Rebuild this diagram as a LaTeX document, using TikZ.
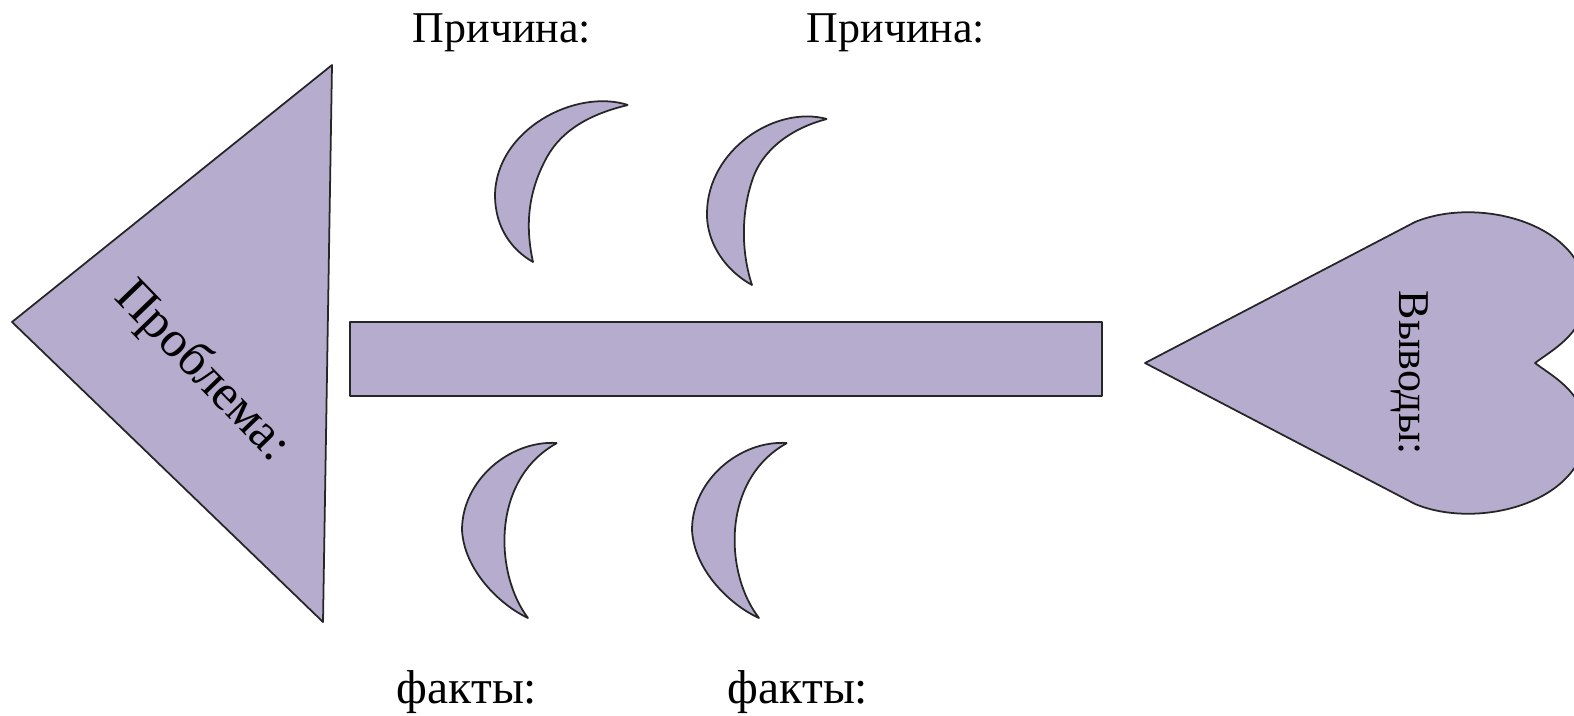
\documentclass[tikz,border=0pt]{standalone}
\usepackage{fontspec}
\setmainfont{Liberation Serif}
\definecolor{lilac}{RGB}{182,172,205}
\tikzset{
  part/.style={fill=lilac, draw=black!85, line width=0.5pt, line join=round},
  cause/.style={font=\fontsize{12.5}{15}\selectfont, anchor=base},
  fact/.style={font=\fontsize{13.5}{16}\selectfont, anchor=base},
}
\begin{document}
\begin{tikzpicture}[x=0.01cm, y=-0.01cm]
    \useasboundingbox (0,0) rectangle (1574,715);
    \clip (0,0) rectangle (1574,715);
    % Head
    \draw[part] (12,322) -- (332,65) -- (323,622) -- cycle;
    \node[font=\fontsize{14.5}{17}\selectfont, rotate=-46] (problem) at (202,372) {Проблема:};
    % Spine
    \draw[part] (350,322) rectangle (1102,396);
    % Tail
    \draw[part] (1145,363) -- (1415,222)
        .. controls (1480,195) and (1590,225) .. (1586,300)
        .. controls (1582,335) and (1552,350) .. (1535,363)
        .. controls (1552,376) and (1582,391) .. (1586,426)
        .. controls (1590,501) and (1480,531) .. (1415,504) -- cycle;
    \node[font=\fontsize{12.5}{15}\selectfont, rotate=-90] (result) at (1410,373) {Выводы:};
    % Upper bones
    \draw[part] (628,105) .. controls (575,88) and (496,130) .. (495,195)
        .. controls (495,228) and (512,250) .. (533,262)
        .. controls (526,230) and (526,195) .. (547,157)
        .. controls (562,130) and (590,114) .. (628,105);
    \draw[part] (827,119) .. controls (775,105) and (708,150) .. (707,212)
        .. controls (706,245) and (728,272) .. (752,285)
        .. controls (742,255) and (740,215) .. (753,178)
        .. controls (764,147) and (795,127) .. (827,119);
    % Lower bones
    \draw[part] (557,443) .. controls (510,440) and (462,480) .. (462,530)
        .. controls (464,570) and (500,605) .. (528,618)
        .. controls (495,575) and (490,480) .. (557,443);
    \draw[part] (787,443) .. controls (740,440) and (692,480) .. (692,530)
        .. controls (694,570) and (730,605) .. (759,618)
        .. controls (725,575) and (720,480) .. (787,443);
    % Labels
    \node[cause] (cause1) at (502,42) {Причина:};
    \node[cause] (cause2) at (896,42) {Причина:};
    \node[fact] (fact1) at (467,703) {факты:};
    \node[fact] (fact2) at (798,703) {факты:};
\end{tikzpicture}
\end{document}
